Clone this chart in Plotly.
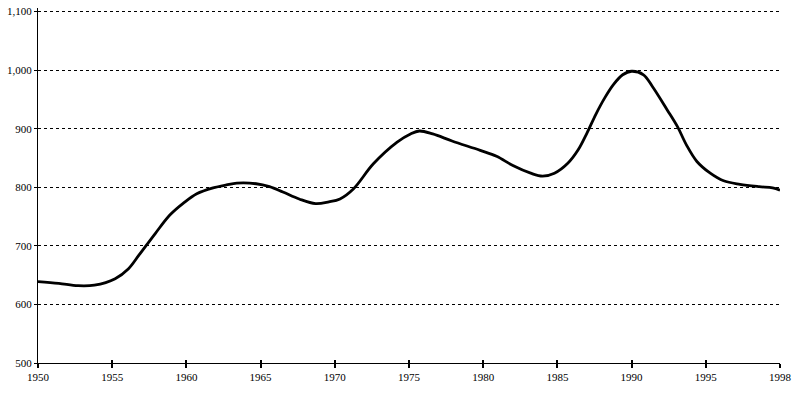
import plotly.graph_objects as go

# Axis positions (1950..2000 span; last tick labelled 1998 at the axis end)
positions = [1950.0, 1951.4, 1952.7, 1953.8, 1955.2, 1956.1, 1956.8, 1957.9,
             1958.9, 1959.8, 1960.7, 1961.8, 1962.7, 1963.4, 1964.7, 1965.6, 1966.5, 1967.6,
             1968.7, 1969.6, 1970.35, 1971.25, 1972.6, 1974.2, 1975.1, 1975.7,
             1976.6, 1977.9, 1979.8, 1980.9, 1982.0, 1983.2, 1984.0, 1984.8, 1985.7, 1986.4,
             1987.0, 1987.6, 1988.2, 1988.8, 1989.4, 1990.0, 1990.8, 1991.4, 1992.4, 1993.1,
             1993.7, 1994.4, 1995.3, 1996.2, 1997.3, 1998.6, 1999.5, 2000.0]
values = [639, 636, 632, 633, 644, 661, 684, 721,
          753, 773, 789, 799, 804, 807, 806, 801, 792, 780,
          772, 775, 780, 797, 840, 877, 891, 896,
          891, 879, 863, 853, 837, 824, 819, 824, 841, 864,
          893, 925, 953, 976, 992, 998, 992, 972, 932, 903,
          872, 844, 824, 811, 805, 801, 799, 795]

x_tickvals = [1950, 1955, 1960, 1965, 1970, 1975, 1980, 1985, 1990, 1995, 2000]
x_ticktext = ["1950", "1955", "1960", "1965", "1970", "1975", "1980", "1985", "1990", "1995", "1998"]
y_tickvals = [500, 600, 700, 800, 900, 1000, 1100]

font = dict(family="Liberation Serif", size=11, color="black")

fig = go.Figure()
fig.add_trace(go.Scatter(x=positions, y=values, mode="lines",
                         line=dict(color="black", width=2.8, shape="spline", smoothing=1.0),
                         showlegend=False, hoverinfo="skip"))
# invisible trace for the secondary x axis (inside tick marks)
fig.add_trace(go.Scatter(x=[positions[0]], y=[values[0]], xaxis="x2", mode="none",
                         showlegend=False, hoverinfo="skip"))

fig.update_layout(
    width=800, height=393,
    margin=dict(l=38, r=20, t=8, b=30),
    paper_bgcolor="white", plot_bgcolor="white",
    font=font,
    xaxis=dict(range=[1950, 2000], tickvals=x_tickvals, ticktext=x_ticktext, automargin=False,
               showgrid=False, zeroline=False, showline=True, linecolor="black", linewidth=1,
               ticks="outside", ticklen=4, tickcolor="black", tickwidth=2, tickfont=font,
               ticklabeloverflow="allow"),
    xaxis2=dict(range=[1950, 2000], tickvals=x_tickvals, overlaying="x", side="bottom",
                automargin=False,
                showgrid=False, zeroline=False, showline=False, showticklabels=False,
                ticks="inside", ticklen=3, tickcolor="black", tickwidth=2),
    yaxis=dict(range=[500, 1106], tickvals=y_tickvals, tickformat=",", automargin=False,
               showgrid=True, gridcolor="black", griddash="dot", gridwidth=1,
               zeroline=False, showline=True, linecolor="black", linewidth=1,
               ticks="outside", ticklen=3, tickcolor="black", tickfont=font,
               ticklabeloverflow="allow"),
)

fig.write_html("out.html", config={"displayModeBar": False},
               post_script="document.body.style.margin='0';document.body.style.overflow='hidden';")
